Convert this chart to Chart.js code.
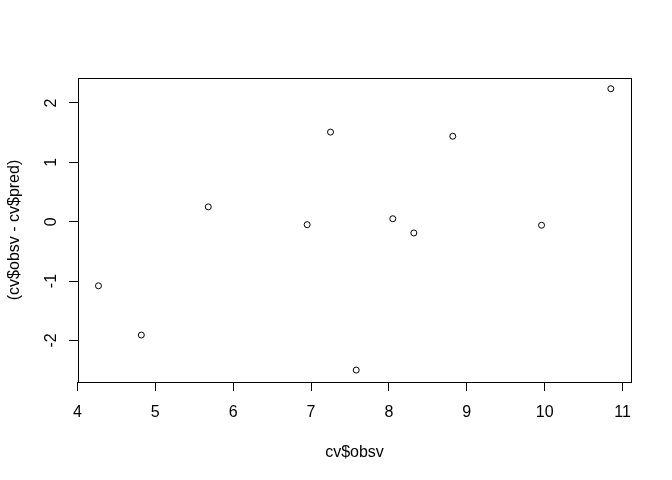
<!DOCTYPE html>
<html>
<head>
<meta charset="utf-8">
<script src="https://cdn.jsdelivr.net/npm/chart.js@4/dist/chart.umd.min.js"></script>
<style>
    html, body { margin: 0; padding: 0; background: #fff; }
    #wrap { width: 672px; height: 480px; }
</style>
</head>
<body>
<div id="wrap"><canvas id="chart" width="672" height="480"></canvas></div>
<script>
// ---------------------------------------------------------------------------
// Data
// ---------------------------------------------------------------------------

const obsv  = [4.27, 4.82, 5.68, 6.95, 7.25, 7.58, 8.05, 8.32, 8.82, 9.96, 10.85];
const resid = [-1.08, -1.91, 0.25, -0.05, 1.51, -2.50, 0.05, -0.19, 1.44, -0.06, 2.24];

const xTicks = [4, 5, 6, 7, 8, 9, 10, 11];
const yTicks = [-2, -1, 0, 1, 2];

const xLabel = "cv$obsv";
const yLabel = "(cv$obsv - cv$pred)";

// ---------------------------------------------------------------------------
// Plugins: R-style box and rotated y tick labels
// ---------------------------------------------------------------------------

const FONT = "'Liberation Sans', Arial, sans-serif";

const boxPlugin = {
    id: "rbox",
    afterDraw(chart) {
        const { ctx, chartArea: a } = chart;
        ctx.save();
        ctx.strokeStyle = "#000";
        ctx.lineWidth = 1;
        ctx.strokeRect(Math.round(a.left) + 0.5, Math.round(a.top) + 0.5,
            Math.round(a.right - a.left), Math.round(a.bottom - a.top));
        ctx.restore();
    },
};

const yLabelPlugin = {
    id: "ylabels",
    afterDraw(chart) {
        const { ctx } = chart;
        const y = chart.scales.y;
        ctx.save();
        ctx.fillStyle = "#000";
        ctx.font = "16px " + FONT;
        ctx.textAlign = "center";
        ctx.textBaseline = "alphabetic";
        yTicks.forEach((v) => {
            const py = y.getPixelForValue(v);
            ctx.save();
            ctx.translate(56, py);
            ctx.rotate(-Math.PI / 2);
            ctx.fillText(String(v), 0, 0);
            ctx.restore();
        });
        ctx.restore();
    },
};

// ---------------------------------------------------------------------------
// Chart
// ---------------------------------------------------------------------------

Chart.defaults.font.family = FONT;
Chart.defaults.font.size = 16;
Chart.defaults.color = "#000";

new Chart(document.getElementById("chart").getContext("2d"), {
    type: "scatter",
    data: {
        datasets: [{
            data: obsv.map((x, i) => ({ x, y: resid[i] })),
            pointStyle: "circle",
            pointRadius: 3,
            pointBorderWidth: 1,
            pointBorderColor: "#000",
            pointBackgroundColor: "rgba(0,0,0,0)",
            showLine: false,
        }],
    },
    options: {
        responsive: false,
        animation: false,
        devicePixelRatio: 1,
        layout: { padding: { top: 78, right: 41, left: 0, bottom: 0 } },
        plugins: { legend: { display: false }, tooltip: { enabled: false } },
        scales: {
            x: {
                type: "linear",
                min: 4.007,
                max: 11.109,
                afterBuildTicks: (s) => { s.ticks = xTicks.map((v) => ({ value: v })); },
                afterFit: (s) => { s.height = 98; },
                grid: { drawOnChartArea: false, color: "#000", tickLength: 9, tickWidth: 1 },
                border: { display: false },
                ticks: { color: "#000", font: { size: 16 }, padding: 12, maxRotation: 0, autoSkip: false },
                title: { display: true, text: xLabel, color: "#000", font: { size: 16 }, padding: { top: 0, bottom: 18 } },
            },
            y: {
                type: "linear",
                min: -2.701,
                max: 2.421,
                afterBuildTicks: (s) => { s.ticks = yTicks.map((v) => ({ value: v })); },
                afterFit: (s) => { s.width = 78; },
                grid: { drawOnChartArea: false, color: "#000", tickLength: 9, tickWidth: 1 },
                border: { display: false },
                ticks: { display: false },
                title: { display: true, text: yLabel, color: "#000", font: { size: 16 }, padding: { top: 5, bottom: 0 } },
            },
        },
    },
    plugins: [boxPlugin, yLabelPlugin],
});
</script>
</body>
</html>
